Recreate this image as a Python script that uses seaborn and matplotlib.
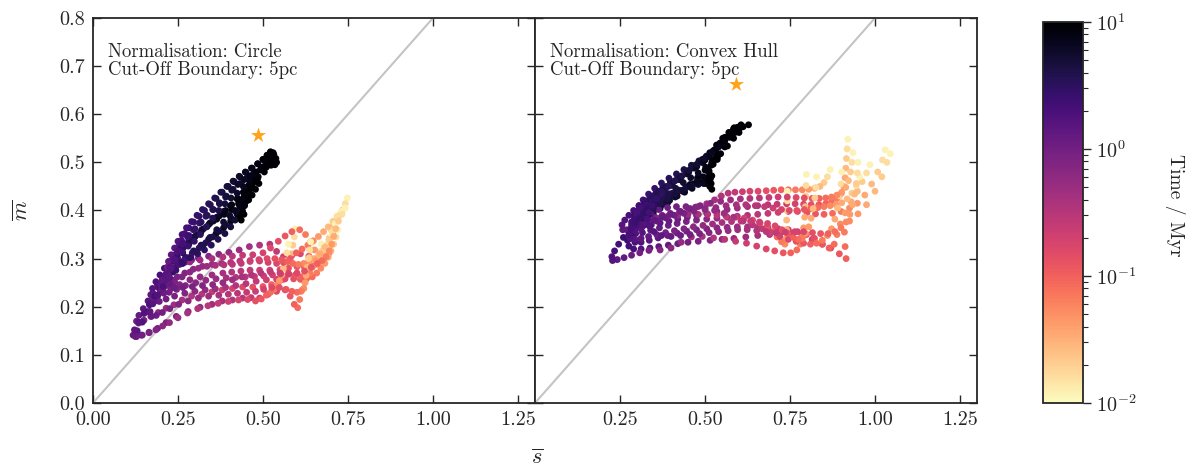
import matplotlib
matplotlib.use("Agg")
import matplotlib.pyplot as plt
import pandas as pd
import seaborn as sns
from matplotlib.colors import LogNorm
from matplotlib.cm import ScalarMappable

# Snapshot times (Myr) shared by every run
SNAP_T = [0.012, 0.016, 0.021, 0.027, 0.034, 0.043, 0.054, 0.067, 0.083,
          0.10, 0.12, 0.14, 0.165, 0.19, 0.22, 0.26, 0.30, 0.35, 0.41, 0.48,
          0.56, 0.65, 0.76, 0.88,
          1.0, 1.12, 1.25, 1.4, 1.57, 1.76, 1.97, 2.2, 2.46, 2.75, 3.07, 3.43,
          3.83, 4.28, 4.78, 5.34, 5.97, 6.67, 7.45, 8.32, 8.8, 9.3, 9.65, 10.0]

# (s_bar, m_bar) per snapshot, circle normalisation
circle_run1 = [(0.748, 0.426), (0.742, 0.414), (0.734, 0.401), (0.725, 0.390), (0.716, 0.380), (0.708, 0.368), (0.706, 0.350), (0.703, 0.330), (0.695, 0.312),
               (0.680, 0.300), (0.660, 0.296), (0.635, 0.305), (0.610, 0.310), (0.585, 0.307), (0.560, 0.304), (0.540, 0.315), (0.520, 0.330), (0.490, 0.328), (0.460, 0.325), (0.430, 0.318), (0.400, 0.313), (0.370, 0.309), (0.340, 0.305), (0.310, 0.301),
               (0.290, 0.297), (0.272, 0.293), (0.258, 0.293), (0.250, 0.300), (0.248, 0.312), (0.252, 0.325), (0.260, 0.338), (0.270, 0.352), (0.282, 0.364), (0.296, 0.376), (0.312, 0.388), (0.328, 0.400),
               (0.345, 0.412), (0.362, 0.425), (0.380, 0.438), (0.398, 0.450), (0.415, 0.460), (0.432, 0.470), (0.450, 0.479), (0.468, 0.488), (0.485, 0.497), (0.500, 0.506), (0.512, 0.514), (0.522, 0.521)]
circle_run2 = [(0.594, 0.362), (0.592, 0.345), (0.588, 0.328), (0.583, 0.310), (0.578, 0.293), (0.572, 0.277), (0.565, 0.263), (0.558, 0.256), (0.545, 0.250),
               (0.525, 0.246), (0.500, 0.242), (0.470, 0.241), (0.440, 0.241), (0.410, 0.238), (0.380, 0.235), (0.350, 0.231), (0.320, 0.226), (0.290, 0.222), (0.262, 0.214), (0.238, 0.204), (0.215, 0.197), (0.192, 0.188), (0.170, 0.180), (0.150, 0.172),
               (0.134, 0.166), (0.128, 0.170), (0.135, 0.182), (0.148, 0.196), (0.162, 0.212), (0.176, 0.228), (0.190, 0.245), (0.204, 0.262), (0.218, 0.278), (0.232, 0.294), (0.248, 0.308), (0.265, 0.322),
               (0.282, 0.336), (0.300, 0.346), (0.318, 0.356), (0.336, 0.367), (0.354, 0.378), (0.372, 0.389), (0.390, 0.400), (0.408, 0.412), (0.425, 0.425), (0.442, 0.438), (0.458, 0.452), (0.472, 0.466)]
circle_run3 = [(0.645, 0.333), (0.641, 0.318), (0.636, 0.302), (0.631, 0.285), (0.626, 0.268), (0.622, 0.252), (0.615, 0.235), (0.608, 0.215), (0.602, 0.198),
               (0.592, 0.205), (0.580, 0.222), (0.565, 0.235), (0.540, 0.232), (0.515, 0.226), (0.490, 0.218), (0.465, 0.219), (0.440, 0.218), (0.410, 0.214), (0.380, 0.212), (0.350, 0.205), (0.315, 0.199), (0.280, 0.190), (0.245, 0.180), (0.215, 0.167),
               (0.190, 0.155), (0.165, 0.147), (0.142, 0.141), (0.125, 0.138), (0.130, 0.150), (0.145, 0.168), (0.162, 0.190), (0.180, 0.212), (0.198, 0.234), (0.216, 0.254), (0.235, 0.272), (0.255, 0.288),
               (0.275, 0.302), (0.296, 0.316), (0.318, 0.328), (0.340, 0.340), (0.362, 0.352), (0.384, 0.364), (0.405, 0.378), (0.424, 0.392), (0.440, 0.406), (0.452, 0.420), (0.462, 0.434), (0.470, 0.448)]
circle_run4 = [(0.705, 0.378), (0.700, 0.360), (0.695, 0.343), (0.690, 0.326), (0.684, 0.312), (0.677, 0.300), (0.668, 0.291), (0.655, 0.288), (0.640, 0.286),
               (0.620, 0.284), (0.600, 0.283), (0.575, 0.280), (0.550, 0.277), (0.520, 0.276), (0.490, 0.276), (0.462, 0.276), (0.435, 0.274), (0.408, 0.272), (0.382, 0.270), (0.350, 0.266), (0.315, 0.262), (0.285, 0.256), (0.255, 0.246), (0.230, 0.238),
               (0.208, 0.230), (0.190, 0.222), (0.176, 0.218), (0.170, 0.225), (0.175, 0.238), (0.185, 0.252), (0.197, 0.266), (0.210, 0.280), (0.224, 0.294), (0.238, 0.307), (0.254, 0.320), (0.270, 0.330),
               (0.288, 0.340), (0.306, 0.350), (0.325, 0.362), (0.344, 0.374), (0.364, 0.386), (0.384, 0.398), (0.404, 0.410), (0.424, 0.424), (0.444, 0.438), (0.464, 0.452), (0.484, 0.466), (0.504, 0.480)]
circle_run5 = [(0.672, 0.330), (0.670, 0.315), (0.668, 0.300), (0.666, 0.288), (0.660, 0.300), (0.652, 0.318), (0.640, 0.335), (0.625, 0.350), (0.608, 0.360),
               (0.585, 0.356), (0.565, 0.347), (0.545, 0.336), (0.522, 0.322), (0.500, 0.312), (0.470, 0.308), (0.440, 0.307), (0.410, 0.305), (0.382, 0.303), (0.350, 0.300), (0.315, 0.297), (0.285, 0.293), (0.262, 0.290), (0.245, 0.285), (0.232, 0.278),
               (0.222, 0.274), (0.218, 0.282), (0.222, 0.294), (0.230, 0.308), (0.240, 0.322), (0.250, 0.336), (0.262, 0.350), (0.275, 0.364), (0.290, 0.377), (0.306, 0.390), (0.322, 0.402), (0.340, 0.414),
               (0.358, 0.426), (0.376, 0.438), (0.394, 0.450), (0.412, 0.461), (0.430, 0.471), (0.448, 0.480), (0.466, 0.488), (0.484, 0.497), (0.500, 0.506), (0.512, 0.515), (0.522, 0.522), (0.530, 0.520)]
circle_run6 = [(0.720, 0.360), (0.715, 0.345), (0.708, 0.330), (0.700, 0.316), (0.692, 0.303), (0.682, 0.290), (0.670, 0.280), (0.658, 0.270), (0.645, 0.262),
               (0.628, 0.258), (0.610, 0.257), (0.590, 0.258), (0.565, 0.258), (0.540, 0.257), (0.510, 0.256), (0.480, 0.253), (0.450, 0.248), (0.420, 0.244), (0.390, 0.240), (0.360, 0.237), (0.330, 0.235), (0.300, 0.232), (0.270, 0.228), (0.240, 0.222),
               (0.215, 0.216), (0.195, 0.211), (0.182, 0.212), (0.182, 0.225), (0.192, 0.240), (0.205, 0.255), (0.220, 0.268), (0.236, 0.280), (0.254, 0.292), (0.272, 0.302), (0.292, 0.312), (0.312, 0.322),
               (0.332, 0.333), (0.352, 0.345), (0.372, 0.357), (0.390, 0.370), (0.406, 0.384), (0.420, 0.398), (0.432, 0.412), (0.442, 0.426), (0.452, 0.440), (0.462, 0.452), (0.474, 0.462), (0.486, 0.470)]
circle_run7 = [(0.575, 0.330), (0.570, 0.312), (0.565, 0.295), (0.560, 0.280), (0.555, 0.266), (0.548, 0.254), (0.540, 0.244), (0.532, 0.236), (0.522, 0.230),
               (0.510, 0.224), (0.495, 0.216), (0.478, 0.212), (0.455, 0.215), (0.428, 0.214), (0.398, 0.211), (0.368, 0.207), (0.338, 0.202), (0.308, 0.196), (0.278, 0.187), (0.250, 0.177), (0.225, 0.167), (0.205, 0.160), (0.185, 0.152), (0.165, 0.146),
               (0.145, 0.141), (0.128, 0.138), (0.118, 0.141), (0.122, 0.152), (0.135, 0.168), (0.150, 0.186), (0.166, 0.204), (0.182, 0.222), (0.198, 0.240), (0.214, 0.258), (0.230, 0.276), (0.247, 0.294),
               (0.264, 0.312), (0.282, 0.330), (0.300, 0.346), (0.320, 0.360), (0.342, 0.372), (0.364, 0.382), (0.386, 0.392), (0.408, 0.402), (0.428, 0.414), (0.446, 0.428), (0.462, 0.444), (0.476, 0.460)]
circle_run8 = [(0.730, 0.398), (0.718, 0.388), (0.706, 0.377), (0.692, 0.366), (0.678, 0.356), (0.663, 0.346), (0.648, 0.337), (0.632, 0.328), (0.615, 0.320),
               (0.598, 0.312), (0.580, 0.300), (0.560, 0.292), (0.540, 0.290), (0.515, 0.292), (0.490, 0.295), (0.462, 0.296), (0.432, 0.295), (0.405, 0.292), (0.378, 0.290), (0.350, 0.288), (0.322, 0.284), (0.295, 0.278), (0.270, 0.270), (0.248, 0.262),
               (0.232, 0.256), (0.222, 0.258), (0.220, 0.268), (0.226, 0.282), (0.236, 0.298), (0.248, 0.314), (0.262, 0.330), (0.278, 0.345), (0.295, 0.360), (0.313, 0.374), (0.332, 0.388), (0.352, 0.402),
               (0.372, 0.416), (0.392, 0.430), (0.412, 0.444), (0.432, 0.456), (0.452, 0.467), (0.472, 0.476), (0.492, 0.484), (0.510, 0.490), (0.524, 0.494), (0.535, 0.495), (0.540, 0.500), (0.538, 0.508)]
circle_run9 = [(0.700, 0.345), (0.690, 0.330), (0.678, 0.318), (0.664, 0.308), (0.650, 0.300), (0.635, 0.294), (0.620, 0.290), (0.604, 0.288), (0.588, 0.290),
               (0.572, 0.294), (0.555, 0.298), (0.535, 0.300), (0.512, 0.300), (0.488, 0.298), (0.462, 0.294), (0.436, 0.290), (0.410, 0.288), (0.385, 0.287), (0.360, 0.286), (0.335, 0.284), (0.310, 0.280), (0.285, 0.272), (0.262, 0.262), (0.240, 0.252),
               (0.222, 0.244), (0.208, 0.240), (0.200, 0.245), (0.204, 0.256), (0.215, 0.268), (0.230, 0.278), (0.248, 0.288), (0.268, 0.296), (0.288, 0.303), (0.308, 0.310), (0.328, 0.318), (0.348, 0.328),
               (0.368, 0.340), (0.388, 0.352), (0.405, 0.366), (0.418, 0.380), (0.428, 0.394), (0.436, 0.408), (0.442, 0.420), (0.446, 0.410), (0.440, 0.398), (0.432, 0.388), (0.436, 0.380), (0.444, 0.392)]
circle_run10 = [(0.712, 0.372), (0.704, 0.356), (0.694, 0.340), (0.682, 0.324), (0.668, 0.310), (0.655, 0.296), (0.645, 0.282), (0.638, 0.270), (0.628, 0.262),
                (0.612, 0.262), (0.595, 0.266), (0.575, 0.268), (0.552, 0.268), (0.528, 0.266), (0.502, 0.264), (0.475, 0.263), (0.448, 0.262), (0.420, 0.261), (0.392, 0.260), (0.362, 0.258), (0.332, 0.255), (0.302, 0.250), (0.272, 0.244), (0.246, 0.236),
                (0.224, 0.230), (0.208, 0.228), (0.200, 0.236), (0.204, 0.250), (0.214, 0.266), (0.228, 0.282), (0.244, 0.298), (0.262, 0.314), (0.280, 0.326), (0.298, 0.336), (0.316, 0.350), (0.334, 0.366),
                (0.352, 0.384), (0.370, 0.400), (0.388, 0.414), (0.406, 0.426), (0.424, 0.436), (0.442, 0.450), (0.460, 0.462), (0.478, 0.474), (0.494, 0.486), (0.508, 0.496), (0.520, 0.504), (0.532, 0.500)]
circle_run11 = [(0.640, 0.335), (0.637, 0.318), (0.634, 0.300), (0.630, 0.282), (0.627, 0.265), (0.624, 0.250), (0.620, 0.238), (0.612, 0.232), (0.600, 0.230),
                (0.585, 0.232), (0.568, 0.236), (0.548, 0.240), (0.526, 0.240), (0.502, 0.236), (0.478, 0.232), (0.452, 0.230), (0.425, 0.228), (0.398, 0.226), (0.370, 0.224), (0.340, 0.222), (0.310, 0.218), (0.280, 0.212), (0.252, 0.205), (0.226, 0.196),
                (0.204, 0.188), (0.186, 0.182), (0.172, 0.180), (0.168, 0.190), (0.176, 0.206), (0.190, 0.224), (0.206, 0.242), (0.224, 0.260), (0.244, 0.276), (0.264, 0.290), (0.284, 0.302), (0.304, 0.314),
                (0.324, 0.328), (0.344, 0.344), (0.364, 0.360), (0.384, 0.376), (0.402, 0.390), (0.418, 0.400), (0.432, 0.408), (0.446, 0.414), (0.458, 0.422), (0.468, 0.432), (0.478, 0.444), (0.488, 0.456)]
circle_run12 = [(0.742, 0.405), (0.732, 0.392), (0.722, 0.378), (0.714, 0.362), (0.708, 0.346), (0.702, 0.330), (0.695, 0.316), (0.686, 0.304), (0.674, 0.296),
                (0.660, 0.290), (0.642, 0.282), (0.622, 0.274), (0.600, 0.270), (0.576, 0.268), (0.550, 0.270), (0.522, 0.272), (0.494, 0.270), (0.466, 0.266), (0.438, 0.262), (0.410, 0.256), (0.382, 0.250), (0.352, 0.246), (0.322, 0.244), (0.292, 0.242),
                (0.264, 0.240), (0.240, 0.240), (0.226, 0.248), (0.224, 0.262), (0.230, 0.280), (0.240, 0.298), (0.252, 0.316), (0.266, 0.332), (0.282, 0.348), (0.300, 0.362), (0.318, 0.376), (0.336, 0.390),
                (0.354, 0.402), (0.372, 0.414), (0.390, 0.428), (0.408, 0.442), (0.426, 0.454), (0.444, 0.464), (0.462, 0.472), (0.480, 0.480), (0.498, 0.490), (0.512, 0.500), (0.524, 0.510), (0.532, 0.516)]

# (s_bar, m_bar) per snapshot, convex hull normalisation
hull_run1 = [(1.045, 0.518), (1.035, 0.500), (1.020, 0.470), (1.000, 0.440), (0.975, 0.412), (0.950, 0.393), (0.925, 0.378), (0.910, 0.355), (0.912, 0.325),
             (0.915, 0.300), (0.895, 0.310), (0.870, 0.322), (0.845, 0.330), (0.815, 0.340), (0.785, 0.348), (0.755, 0.352), (0.720, 0.352), (0.690, 0.350), (0.655, 0.348), (0.620, 0.345), (0.585, 0.342), (0.550, 0.340), (0.515, 0.338), (0.480, 0.336),
             (0.450, 0.334), (0.420, 0.331), (0.392, 0.328), (0.364, 0.325), (0.338, 0.322), (0.312, 0.320), (0.290, 0.320), (0.276, 0.326), (0.272, 0.338), (0.280, 0.348), (0.294, 0.358), (0.310, 0.368),
             (0.328, 0.380), (0.348, 0.392), (0.368, 0.404), (0.390, 0.416), (0.412, 0.428), (0.434, 0.440), (0.456, 0.454), (0.478, 0.468), (0.500, 0.484), (0.520, 0.500), (0.540, 0.516), (0.558, 0.532)]
hull_run2 = [(1.030, 0.526), (1.022, 0.505), (1.008, 0.480), (0.990, 0.455), (0.970, 0.432), (0.948, 0.415), (0.925, 0.405), (0.900, 0.398), (0.875, 0.394),
             (0.850, 0.392), (0.825, 0.393), (0.800, 0.396), (0.772, 0.398), (0.745, 0.398), (0.715, 0.396), (0.685, 0.394), (0.655, 0.392), (0.625, 0.390), (0.595, 0.388), (0.565, 0.386), (0.535, 0.384), (0.505, 0.382), (0.475, 0.380), (0.445, 0.377),
             (0.418, 0.373), (0.392, 0.369), (0.366, 0.364), (0.340, 0.359), (0.316, 0.354), (0.296, 0.352), (0.284, 0.358), (0.284, 0.370), (0.292, 0.382), (0.306, 0.394), (0.322, 0.405), (0.340, 0.416),
             (0.360, 0.428), (0.380, 0.440), (0.402, 0.452), (0.424, 0.464), (0.446, 0.476), (0.468, 0.488), (0.490, 0.500), (0.512, 0.513), (0.532, 0.527), (0.550, 0.541), (0.566, 0.553), (0.580, 0.564)]
hull_run3 = [(0.920, 0.548), (0.918, 0.528), (0.916, 0.508), (0.914, 0.488), (0.912, 0.468), (0.908, 0.450), (0.900, 0.435), (0.888, 0.425), (0.872, 0.418),
             (0.855, 0.414), (0.835, 0.412), (0.812, 0.412), (0.790, 0.413), (0.765, 0.414), (0.740, 0.414), (0.712, 0.413), (0.685, 0.412), (0.655, 0.410), (0.625, 0.408), (0.595, 0.405), (0.565, 0.402), (0.535, 0.398), (0.505, 0.394), (0.475, 0.390),
             (0.448, 0.386), (0.420, 0.382), (0.394, 0.378), (0.368, 0.374), (0.342, 0.370), (0.318, 0.368), (0.300, 0.372), (0.292, 0.382), (0.296, 0.396), (0.308, 0.406), (0.322, 0.416), (0.338, 0.426),
             (0.356, 0.437), (0.376, 0.448), (0.398, 0.460), (0.420, 0.471), (0.444, 0.482), (0.468, 0.493), (0.492, 0.506), (0.514, 0.520), (0.534, 0.536), (0.552, 0.550), (0.570, 0.562), (0.586, 0.572)]
hull_run4 = [(0.868, 0.485), (0.860, 0.470), (0.850, 0.458), (0.838, 0.450), (0.822, 0.446), (0.805, 0.444), (0.786, 0.443), (0.766, 0.443), (0.745, 0.443),
             (0.724, 0.443), (0.702, 0.442), (0.680, 0.441), (0.656, 0.440), (0.632, 0.440), (0.610, 0.439), (0.588, 0.438), (0.568, 0.436), (0.548, 0.430), (0.528, 0.422), (0.505, 0.414), (0.480, 0.408), (0.452, 0.402), (0.425, 0.398), (0.398, 0.394),
             (0.374, 0.390), (0.352, 0.386), (0.332, 0.383), (0.314, 0.382), (0.302, 0.388), (0.300, 0.398), (0.306, 0.410), (0.318, 0.422), (0.334, 0.434), (0.352, 0.446), (0.372, 0.457), (0.394, 0.467),
             (0.416, 0.476), (0.438, 0.485), (0.460, 0.494), (0.482, 0.503), (0.504, 0.513), (0.524, 0.524), (0.542, 0.536), (0.558, 0.548), (0.572, 0.558), (0.584, 0.566), (0.596, 0.573), (0.606, 0.578)]
hull_run5 = [(0.985, 0.495), (0.975, 0.478), (0.962, 0.460), (0.948, 0.440), (0.930, 0.418), (0.912, 0.395), (0.898, 0.372), (0.888, 0.350), (0.880, 0.330),
             (0.865, 0.322), (0.845, 0.330), (0.822, 0.342), (0.798, 0.350), (0.772, 0.356), (0.745, 0.360), (0.715, 0.362), (0.685, 0.364), (0.655, 0.365), (0.625, 0.366), (0.595, 0.366), (0.565, 0.365), (0.535, 0.364), (0.505, 0.362), (0.475, 0.360),
             (0.446, 0.357), (0.418, 0.353), (0.390, 0.348), (0.362, 0.343), (0.336, 0.338), (0.312, 0.334), (0.294, 0.334), (0.284, 0.342), (0.286, 0.352), (0.294, 0.362), (0.306, 0.372), (0.320, 0.382),
             (0.336, 0.392), (0.354, 0.402), (0.374, 0.412), (0.396, 0.421), (0.418, 0.430), (0.440, 0.438), (0.462, 0.446), (0.482, 0.456), (0.498, 0.468), (0.512, 0.482), (0.524, 0.496), (0.536, 0.510)]
hull_run6 = [(0.798, 0.475), (0.797, 0.452), (0.796, 0.430), (0.795, 0.408), (0.793, 0.386), (0.790, 0.364), (0.786, 0.345), (0.780, 0.330), (0.770, 0.318),
             (0.752, 0.312), (0.730, 0.312), (0.705, 0.316), (0.680, 0.320), (0.652, 0.326), (0.622, 0.332), (0.590, 0.336), (0.558, 0.340), (0.525, 0.343), (0.492, 0.346), (0.460, 0.345), (0.430, 0.334), (0.400, 0.322), (0.368, 0.318), (0.335, 0.317),
             (0.308, 0.312), (0.284, 0.307), (0.262, 0.302), (0.242, 0.298), (0.228, 0.296), (0.226, 0.304), (0.234, 0.316), (0.246, 0.330), (0.260, 0.344), (0.276, 0.358), (0.294, 0.372), (0.314, 0.386),
             (0.334, 0.399), (0.356, 0.411), (0.378, 0.422), (0.400, 0.432), (0.422, 0.441), (0.444, 0.449), (0.466, 0.455), (0.486, 0.458), (0.502, 0.456), (0.514, 0.450), (0.520, 0.444), (0.518, 0.456)]
hull_run7 = [(0.742, 0.440), (0.742, 0.420), (0.741, 0.400), (0.740, 0.380), (0.740, 0.360), (0.739, 0.342), (0.735, 0.330), (0.725, 0.335), (0.712, 0.345),
             (0.698, 0.356), (0.682, 0.366), (0.662, 0.374), (0.640, 0.380), (0.615, 0.384), (0.590, 0.386), (0.562, 0.388), (0.535, 0.390), (0.508, 0.392), (0.480, 0.392), (0.450, 0.392), (0.420, 0.390), (0.390, 0.388), (0.360, 0.384), (0.332, 0.378),
             (0.308, 0.372), (0.288, 0.366), (0.270, 0.360), (0.258, 0.360), (0.256, 0.370), (0.264, 0.380), (0.276, 0.390), (0.290, 0.400), (0.306, 0.410), (0.324, 0.420), (0.344, 0.430), (0.364, 0.440),
             (0.386, 0.450), (0.408, 0.460), (0.430, 0.470), (0.452, 0.480), (0.474, 0.490), (0.494, 0.500), (0.512, 0.512), (0.528, 0.526), (0.544, 0.540), (0.558, 0.552), (0.572, 0.562), (0.584, 0.570)]
hull_run8 = [(0.955, 0.470), (0.945, 0.452), (0.932, 0.436), (0.918, 0.424), (0.902, 0.416), (0.885, 0.412), (0.868, 0.410), (0.850, 0.408), (0.832, 0.406),
             (0.812, 0.404), (0.792, 0.402), (0.770, 0.400), (0.748, 0.400), (0.725, 0.402), (0.700, 0.405), (0.675, 0.408), (0.648, 0.410), (0.620, 0.412), (0.592, 0.412), (0.562, 0.410), (0.532, 0.406), (0.500, 0.402), (0.468, 0.398), (0.438, 0.394),
             (0.410, 0.390), (0.384, 0.385), (0.358, 0.378), (0.334, 0.370), (0.312, 0.362), (0.294, 0.358), (0.284, 0.364), (0.284, 0.376), (0.292, 0.390), (0.306, 0.402), (0.322, 0.413), (0.340, 0.424),
             (0.360, 0.435), (0.382, 0.446), (0.404, 0.457), (0.428, 0.468), (0.452, 0.480), (0.476, 0.492), (0.500, 0.505), (0.524, 0.520), (0.548, 0.536), (0.572, 0.552), (0.598, 0.566), (0.628, 0.578)]
hull_run9 = [(0.902, 0.480), (0.900, 0.455), (0.896, 0.430), (0.890, 0.405), (0.882, 0.382), (0.872, 0.362), (0.860, 0.348), (0.845, 0.338), (0.828, 0.332),
             (0.810, 0.330), (0.790, 0.332), (0.768, 0.336), (0.745, 0.340), (0.720, 0.346), (0.694, 0.354), (0.668, 0.362), (0.640, 0.370), (0.612, 0.378), (0.584, 0.386), (0.556, 0.394), (0.528, 0.400), (0.500, 0.404), (0.472, 0.407), (0.444, 0.408),
             (0.416, 0.408), (0.390, 0.406), (0.364, 0.402), (0.340, 0.397), (0.318, 0.392), (0.302, 0.390), (0.300, 0.398), (0.310, 0.406), (0.326, 0.412), (0.344, 0.418), (0.364, 0.424), (0.384, 0.430),
             (0.404, 0.436), (0.424, 0.442), (0.444, 0.447), (0.462, 0.451), (0.480, 0.454), (0.496, 0.456), (0.508, 0.460), (0.516, 0.466), (0.520, 0.472), (0.514, 0.474), (0.506, 0.468), (0.512, 0.462)]
hull_run10 = [(0.935, 0.520), (0.932, 0.500), (0.928, 0.480), (0.922, 0.462), (0.914, 0.448), (0.902, 0.438), (0.888, 0.432), (0.872, 0.428), (0.855, 0.426),
              (0.836, 0.425), (0.815, 0.425), (0.792, 0.426), (0.768, 0.427), (0.742, 0.428), (0.715, 0.428), (0.688, 0.427), (0.660, 0.426), (0.632, 0.425), (0.604, 0.424), (0.575, 0.422), (0.546, 0.419), (0.516, 0.415), (0.486, 0.410), (0.456, 0.404),
              (0.428, 0.398), (0.400, 0.392), (0.374, 0.386), (0.350, 0.380), (0.328, 0.374), (0.310, 0.370), (0.298, 0.370), (0.296, 0.376), (0.304, 0.384), (0.318, 0.394), (0.334, 0.404), (0.352, 0.414),
              (0.372, 0.425), (0.392, 0.435), (0.414, 0.446), (0.436, 0.458), (0.458, 0.468), (0.480, 0.478), (0.502, 0.490), (0.524, 0.504), (0.546, 0.518), (0.566, 0.534), (0.584, 0.550), (0.600, 0.562)]
hull_run11 = [(0.828, 0.470), (0.826, 0.448), (0.823, 0.426), (0.818, 0.404), (0.812, 0.384), (0.805, 0.366), (0.796, 0.352), (0.786, 0.342), (0.774, 0.340),
              (0.760, 0.344), (0.744, 0.352), (0.726, 0.360), (0.706, 0.368), (0.684, 0.373), (0.660, 0.376), (0.634, 0.378), (0.606, 0.378), (0.578, 0.377), (0.550, 0.375), (0.522, 0.372), (0.494, 0.369), (0.466, 0.366), (0.438, 0.362), (0.410, 0.358),
              (0.384, 0.354), (0.358, 0.350), (0.334, 0.346), (0.312, 0.342), (0.294, 0.340), (0.280, 0.342), (0.276, 0.350), (0.282, 0.362), (0.294, 0.374), (0.310, 0.384), (0.328, 0.394), (0.348, 0.404),
              (0.368, 0.414), (0.390, 0.424), (0.412, 0.434), (0.434, 0.442), (0.456, 0.450), (0.476, 0.460), (0.494, 0.470), (0.508, 0.482), (0.518, 0.494), (0.526, 0.504), (0.532, 0.512), (0.536, 0.506)]
hull_run12 = [(0.950, 0.500), (0.948, 0.478), (0.945, 0.456), (0.940, 0.434), (0.934, 0.412), (0.926, 0.392), (0.915, 0.376), (0.900, 0.364), (0.882, 0.356),
              (0.862, 0.352), (0.840, 0.352), (0.816, 0.354), (0.790, 0.356), (0.764, 0.356), (0.736, 0.355), (0.708, 0.354), (0.680, 0.356), (0.652, 0.358), (0.624, 0.360), (0.596, 0.360), (0.568, 0.358), (0.540, 0.356), (0.512, 0.354), (0.484, 0.352),
              (0.456, 0.350), (0.428, 0.348), (0.400, 0.346), (0.372, 0.348), (0.350, 0.356), (0.336, 0.368), (0.330, 0.382), (0.334, 0.396), (0.344, 0.410), (0.358, 0.424), (0.374, 0.438), (0.392, 0.450),
              (0.412, 0.462), (0.432, 0.472), (0.454, 0.484), (0.476, 0.496), (0.498, 0.508), (0.520, 0.520), (0.540, 0.532), (0.558, 0.544), (0.574, 0.554), (0.588, 0.562), (0.600, 0.568), (0.612, 0.574)]

# Reference point (star) of each panel
STAR_CIRCLE = (0.485, 0.557)
STAR_HULL = (0.590, 0.662)

Q_BOUNDARY = 0.8
T_MIN, T_MAX = 0.01, 10.0
PANEL_TEXT = ["Normalisation: Circle\nCut-Off Boundary: 5pc",
              "Normalisation: Convex Hull\nCut-Off Boundary: 5pc"]
X_TICKS = [0.00, 0.25, 0.50, 0.75, 1.00, 1.25]
Y_TICKS = [0.0, 0.1, 0.2, 0.3, 0.4, 0.5, 0.6, 0.7, 0.8]


def runs_to_frame(runs):
    rows = []
    for k, run in enumerate(runs):
        if len(run) != len(SNAP_T):
            raise ValueError(f"run {k}: {len(run)} points, expected {len(SNAP_T)}")
        for (s, m), t in zip(run, SNAP_T):
            rows.append((k, s, m, t))
    return pd.DataFrame(rows, columns=["run", "s", "m", "t"])


circle_df = runs_to_frame([circle_run1, circle_run2, circle_run3, circle_run4,
                           circle_run5, circle_run6, circle_run7, circle_run8,
                           circle_run9, circle_run10, circle_run11, circle_run12])
hull_df = runs_to_frame([hull_run1, hull_run2, hull_run3, hull_run4,
                         hull_run5, hull_run6, hull_run7, hull_run8,
                         hull_run9, hull_run10, hull_run11, hull_run12])

sns.set_style("ticks")
plt.rcParams.update({
    "font.family": "serif",
    "font.serif": ["cmr10"],
    "mathtext.fontset": "cm",
    "axes.formatter.use_mathtext": True,
    "axes.unicode_minus": False,
    "axes.linewidth": 1.3,
    "xtick.direction": "in",
    "ytick.direction": "in",
    "xtick.top": True,
    "ytick.right": True,
    "xtick.major.size": 5.5,
    "ytick.major.size": 5.5,
    "xtick.major.width": 1.0,
    "ytick.major.width": 1.0,
    "xtick.labelsize": 14.5,
    "ytick.labelsize": 14.5,
})

norm = LogNorm(vmin=T_MIN, vmax=T_MAX)
cmap = "magma_r"

fig = plt.figure(figsize=(11.86, 4.72), dpi=100)
ax_l = fig.add_axes([0.0784, 0.1462, 0.3727, 0.8157])
ax_r = fig.add_axes([0.4511, 0.1462, 0.3727, 0.8157])
cax = fig.add_axes([0.8794, 0.1462, 0.0337, 0.8072])

for ax, df, star, txt in [(ax_l, circle_df, STAR_CIRCLE, PANEL_TEXT[0]),
                          (ax_r, hull_df, STAR_HULL, PANEL_TEXT[1])]:
    ax.axline((0, 0), slope=Q_BOUNDARY, color="#c4c4c4", lw=1.5, zorder=1)
    sns.scatterplot(data=df, x="s", y="m", hue="t", hue_norm=norm,
                    palette=cmap, s=24, linewidth=0, legend=False,
                    ax=ax, zorder=2)
    ax.scatter([star[0]], [star[1]], marker="*", s=130, color="#ffa31a",
               linewidths=0, zorder=3)
    ax.text(0.035, 0.935, txt, transform=ax.transAxes, ha="left", va="top",
            fontsize=13.5, linespacing=1.0)
    ax.set_xlim(0, 1.3)
    ax.set_ylim(0, 0.8)
    ax.set_yticks(Y_TICKS)
    ax.set_xlabel("")
    ax.set_ylabel("")

ax_l.set_xticks(X_TICKS)
ax_l.set_xticklabels([f"{v:.2f}" for v in X_TICKS])
ax_l.set_yticklabels([f"{v:.1f}" for v in Y_TICKS])
ax_r.set_xticks(X_TICKS[1:])
ax_r.set_xticklabels([f"{v:.2f}" for v in X_TICKS[1:]])
ax_r.set_yticklabels([])
for ax in (ax_l, ax_r):
    ax.tick_params(axis="both", which="both", top=True, right=True,
                   direction="in", pad=6)

fig.text(0.4528, 0.028, r"$\overline{s}$", ha="center", va="center",
         fontsize=16)
fig.text(0.019, 0.555, r"$\overline{m}$", ha="center", va="center",
         rotation=90, fontsize=16)

cb = fig.colorbar(ScalarMappable(norm=norm, cmap=cmap), cax=cax)
cb.outline.set_linewidth(1.3)
cax.tick_params(which="major", direction="out", length=6, width=1.0,
                labelsize=14.5, right=True, left=False)
cax.tick_params(which="minor", direction="out", length=3.5, width=0.8,
                right=True, left=False)
fig.text(0.9905, 0.565, "Time / Myr", rotation=270, ha="center", va="center",
         fontsize=14)

fig.savefig("out.png", dpi=100)
